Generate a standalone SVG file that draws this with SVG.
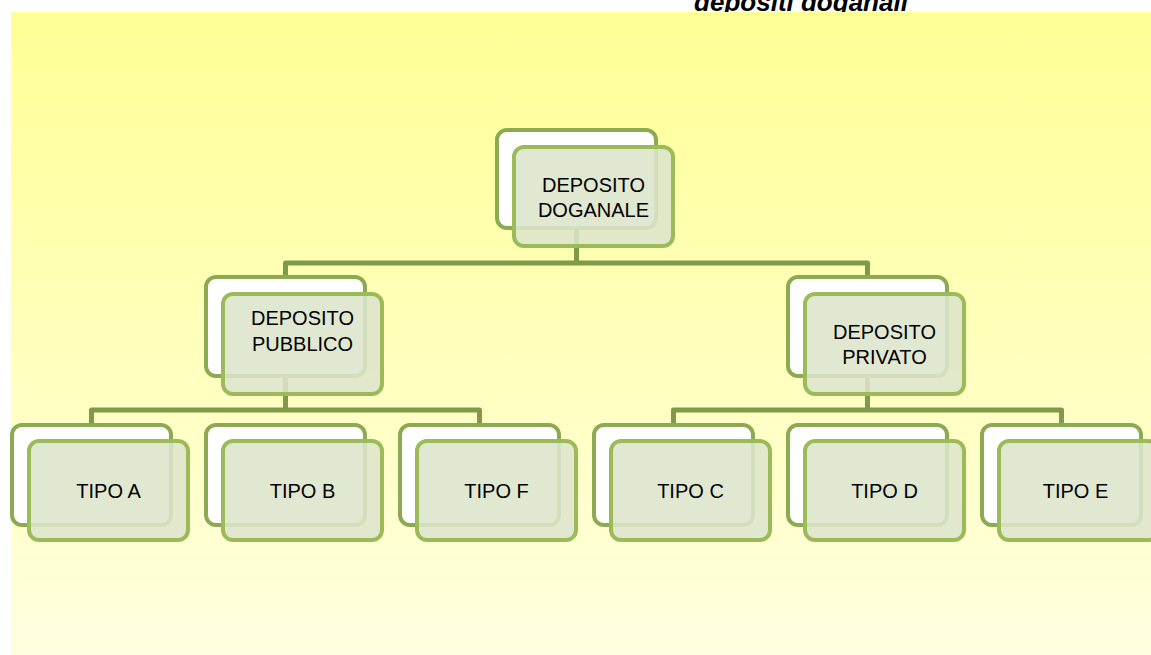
<svg xmlns="http://www.w3.org/2000/svg" width="1151" height="655" viewBox="0 0 1151 655">
<defs>
<linearGradient id="bg" x1="0" y1="0" x2="0" y2="1">
<stop offset="0" stop-color="#FFFF96"/>
<stop offset="1" stop-color="#FFFFE0"/>
</linearGradient>
<style>
.back{fill:#FFFFFF;stroke:#8BAA52;stroke-width:4}
.front{fill:#DDE5CC;fill-opacity:0.88;stroke:#9BBB59;stroke-width:4}
.lbl{font-family:"Liberation Sans",Arial,sans-serif;font-size:20px;fill:#000;text-anchor:middle}
.con{fill:none;stroke:#7F9A48;stroke-width:5;stroke-linejoin:round}
.title{font-family:"Liberation Sans",Arial,sans-serif;font-size:26px;font-weight:bold;font-style:italic;fill:#000;text-anchor:middle}
</style>
</defs>
<rect x="0" y="0" width="1151" height="655" fill="#FFFFFF"/>
<text class="title" x="801" y="11">depositi doganali</text>
<rect x="11" y="12" width="1140" height="643" fill="url(#bg)"/>
<g id="connectors">
<path class="con" d="M576.5 228 V263 M285.5 279 V263 H867.5 V279"/>
<path class="con" d="M285.5 376 V410 M91.5 427 V410 H479.5 V427"/>
<path class="con" d="M867.5 376 V410 M673.5 427 V410 H1061.5 V427"/>
</g>
<g id="node-deposito-doganale">
<rect class="back" x="497" y="130" width="159" height="98" rx="10"/>
<rect class="front" x="514" y="147" width="159" height="99" rx="10"/>
<text class="lbl" x="593.5" y="192">DEPOSITO</text>
<text class="lbl" x="593.5" y="217">DOGANALE</text>
</g>
<g id="node-deposito-pubblico">
<rect class="back" x="206" y="277" width="159" height="99" rx="10"/>
<rect class="front" x="223" y="294" width="159" height="100" rx="10"/>
<text class="lbl" x="302.5" y="325">DEPOSITO</text>
<text class="lbl" x="302.5" y="351">PUBBLICO</text>
</g>
<g id="node-deposito-privato">
<rect class="back" x="788" y="277" width="159" height="99" rx="10"/>
<rect class="front" x="805" y="294" width="159" height="100" rx="10"/>
<text class="lbl" x="884.5" y="339">DEPOSITO</text>
<text class="lbl" x="884.5" y="364">PRIVATO</text>
</g>
<g id="node-tipo-a">
<rect class="back" x="12" y="425" width="159" height="100" rx="10"/>
<rect class="front" x="29" y="441" width="159" height="99" rx="10"/>
<text class="lbl" x="108.5" y="498">TIPO A</text>
</g>
<g id="node-tipo-b">
<rect class="back" x="206" y="425" width="159" height="100" rx="10"/>
<rect class="front" x="223" y="441" width="159" height="99" rx="10"/>
<text class="lbl" x="302.5" y="498">TIPO B</text>
</g>
<g id="node-tipo-f">
<rect class="back" x="400" y="425" width="159" height="100" rx="10"/>
<rect class="front" x="417" y="441" width="159" height="99" rx="10"/>
<text class="lbl" x="496.5" y="498">TIPO F</text>
</g>
<g id="node-tipo-c">
<rect class="back" x="594" y="425" width="159" height="100" rx="10"/>
<rect class="front" x="611" y="441" width="159" height="99" rx="10"/>
<text class="lbl" x="690.5" y="498">TIPO C</text>
</g>
<g id="node-tipo-d">
<rect class="back" x="788" y="425" width="159" height="100" rx="10"/>
<rect class="front" x="805" y="441" width="159" height="99" rx="10"/>
<text class="lbl" x="884.5" y="498">TIPO D</text>
</g>
<g id="node-tipo-e">
<rect class="back" x="982" y="425" width="159" height="100" rx="10"/>
<rect class="front" x="999" y="441" width="159" height="99" rx="10"/>
<text class="lbl" x="1075.5" y="498">TIPO E</text>
</g>
</svg>
